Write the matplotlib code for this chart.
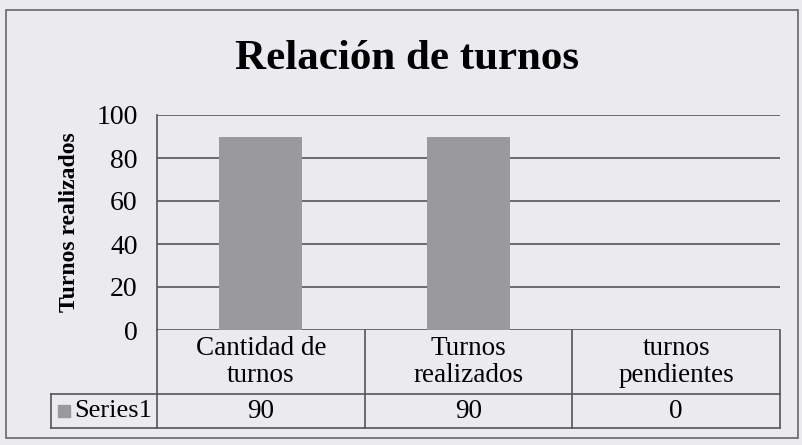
import matplotlib.pyplot as plt
from matplotlib.patches import Rectangle
import matplotlib.transforms as mtransforms

categories = ["Cantidad de\nturnos", "Turnos\nrealizados", "turnos\npendientes"]
values = [90, 90, 0]
series_name = "Series1"
yticks = [0, 20, 40, 60, 80, 100]

plt.rcParams['font.family'] = ['Liberation Serif', 'DejaVu Serif']

W, H = 803, 445
bg = '#ebebef'
bar_color = '#9a9a9c'
line_color = '#555555'

fig = plt.figure(figsize=(W / 100, H / 100), dpi=100)
fig.patch.set_facecolor(bg)

# outer chart border
fig.add_artist(Rectangle((6 / W, 1 - 438 / H), (798 - 6) / W, (438 - 10) / H,
                         transform=fig.transFigure, fill=False,
                         edgecolor='#666666', lw=1.2))

x0, x1, ytop, ybot = 157, 780, 115, 330
ax = fig.add_axes([x0 / W, 1 - ybot / H, (x1 - x0) / W, (ybot - ytop) / H])
ax.set_facecolor('none')

xs = range(len(values))
ax.bar(xs, values, width=0.4, color=bar_color, zorder=2)
ax.set_xlim(-0.5, len(values) - 0.5)
ax.set_ylim(0, 100)
ax.set_yticks(yticks)
ax.set_yticklabels([str(t) for t in yticks], fontsize=20)
ax.tick_params(axis='y', length=0, pad=14)
ax.set_xticks([])
for t in yticks:
    ax.axhline(t, color=line_color, lw=1.2, zorder=1)
for s in ['top', 'right', 'bottom']:
    ax.spines[s].set_visible(False)
ax.spines['left'].set_color(line_color)
ax.spines['left'].set_linewidth(1.2)

ax.set_ylabel("Turnos realizados", fontsize=17, fontweight='bold', labelpad=12)
fig.text(407 / W, 1 - 59 / H, "Relación de turnos", ha='center', va='center',
         fontsize=31, fontweight='bold')

# data table below the axis
trans = mtransforms.blended_transform_factory(ax.transData, ax.transAxes)
ph = ybot - ytop
y_hdr = -(394 - ybot) / ph
y_bot = -(428 - ybot) / ph
unit = (x1 - x0) / len(values)
x_lab = -0.5 - (x0 - 51) / unit
kw = dict(transform=trans, color=line_color, lw=1.2, clip_on=False)
ax.plot([-0.5, len(values) - 0.5], [y_hdr, y_hdr], **kw)
ax.plot([x_lab, len(values) - 0.5], [y_bot, y_bot], **kw)
ax.plot([x_lab, -0.5], [y_hdr, y_hdr], **kw)
ax.plot([x_lab, x_lab], [y_hdr, y_bot], **kw)
for i in range(len(values) + 1):
    ax.plot([i - 0.5, i - 0.5], [0, y_bot], **kw)

for i, (c, v) in enumerate(zip(categories, values)):
    ax.text(i, y_hdr / 2, c, transform=trans, ha='center', va='center',
            fontsize=19.5, linespacing=1.12)
    ax.text(i, (y_hdr + y_bot) / 2, str(v), transform=trans, ha='center',
            va='center', fontsize=19.5)

ym = (y_hdr + y_bot) / 2
ax.add_patch(Rectangle((x_lab + 0.035, ym - 0.028), 0.055, 0.056, transform=trans,
                       color=bar_color, clip_on=False))
ax.text(x_lab + 0.11, ym, series_name, transform=trans, ha='left', va='center',
        fontsize=19)

fig.savefig('out.png', dpi=100, facecolor=bg)
